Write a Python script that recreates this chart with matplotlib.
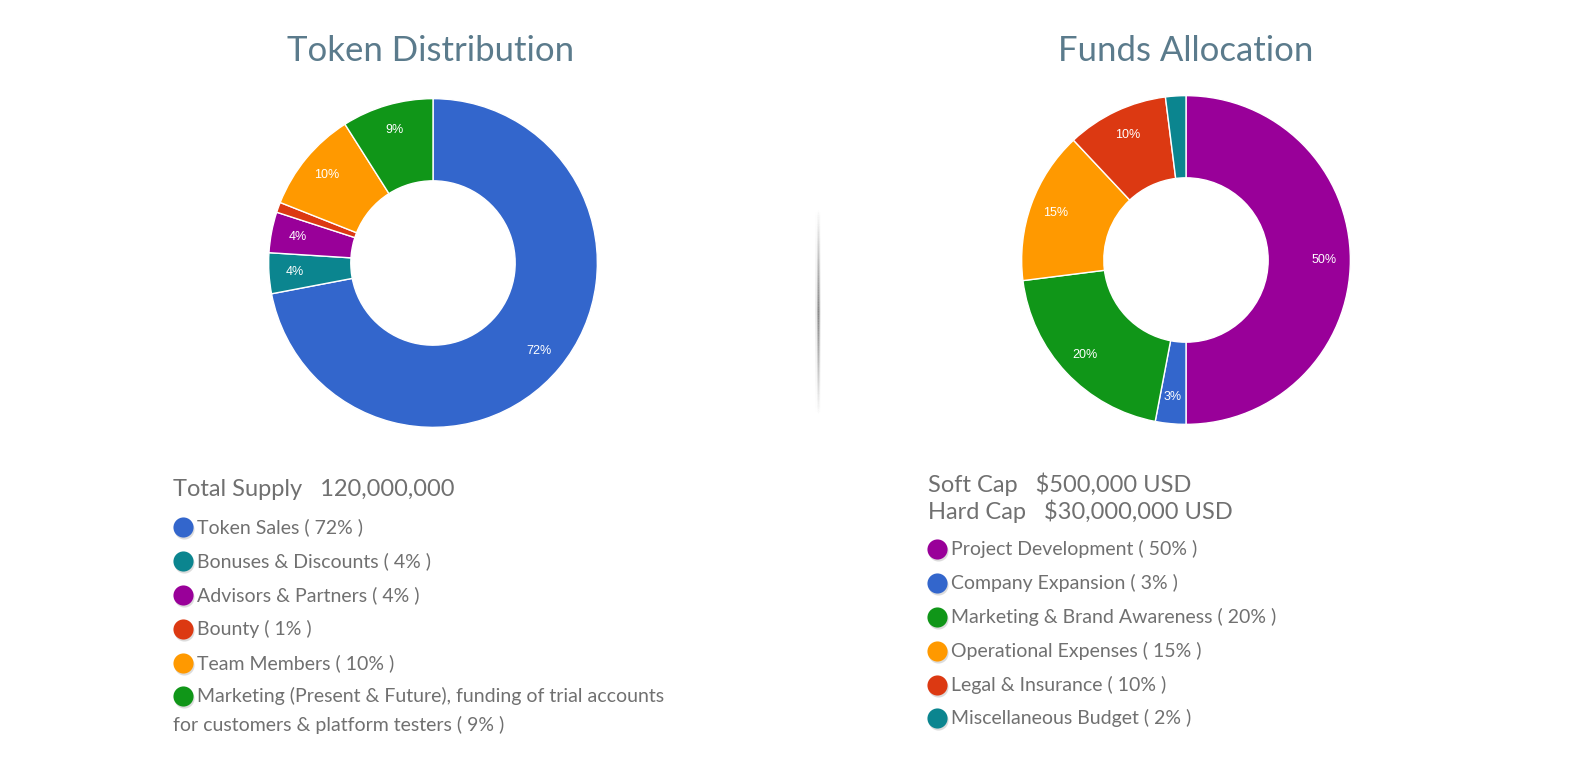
import numpy as np
import matplotlib
matplotlib.use("Agg")
import matplotlib.pyplot as plt
from matplotlib.collections import LineCollection

W, H = 1579, 783

# Token distribution data
token_labels = ["Token Sales", "Bonuses & Discounts", "Advisors & Partners", "Bounty",
                "Team Members", "Marketing (Present & Future), funding of trial accounts\nfor customers & platform testers"]
token_values = [72, 4, 4, 1, 10, 9]
token_colors = ["#3366cc", "#0b858f", "#990099", "#dc3912", "#ff9900", "#109618"]

# Funds allocation data
funds_labels = ["Project Development", "Company Expansion", "Marketing & Brand Awareness",
                "Operational Expenses", "Legal & Insurance", "Miscellaneous Budget"]
funds_values = [50, 3, 20, 15, 10, 2]
funds_colors = ["#990099", "#3366cc", "#109618", "#ff9900", "#dc3912", "#0b858f"]

TITLE_COL = "#5b7b8c"
TEXT_COL = "#707070"
FONT = ["Lato", "DejaVu Sans"]

plt.rcParams["font.family"] = FONT

fig = plt.figure(figsize=(W / 100, H / 100), dpi=100)
fig.patch.set_facecolor("white")

# overlay axes in pixel coordinates for texts / legend dots
ov = fig.add_axes([0, 0, 1, 1])
ov.set_xlim(0, W)
ov.set_ylim(H, 0)
ov.axis("off")


def donut(cx, cy, r, values, colors):
    ax = fig.add_axes([(cx - r) / W, (H - cy - r) / H, 2 * r / W, 2 * r / H])
    ax.pie(values, colors=colors, startangle=90, counterclock=False, radius=1,
           wedgeprops=dict(width=0.5, edgecolor="white", linewidth=1),
           autopct=lambda p: f"{p:.0f}%" if p > 2.5 else "", pctdistance=0.84,
           textprops=dict(color="white", fontsize=9, family=["Arial", "Liberation Sans", "DejaVu Sans"]))
    ax.set_xlim(-1.01, 1.01)
    ax.set_ylim(-1.01, 1.01)
    ax.set_aspect("equal")
    ax.axis("off")


def legend(x, ys, labels, values, colors):
    for y, lab, v, c in zip(ys, labels, values, colors):
        ov.scatter([x + 0.8], [y + 1.8], s=210, color="#bbbbbb", alpha=0.5, linewidths=0, zorder=2)
        ov.scatter([x], [y], s=210, color=c, linewidths=0, zorder=3)
        lines = lab.split("\n")
        if len(lines) == 1:
            ov.text(x + 14, y, f"{lab} ( {v}% )", fontsize=14, color=TEXT_COL,
                    va="center", ha="left")
        else:
            ov.text(x + 14, y, lines[0], fontsize=14, color=TEXT_COL,
                    va="center", ha="left")
            ov.text(x - 10, y + 29, f"{lines[1]} ( {v}% )", fontsize=14, color=TEXT_COL,
                    va="center", ha="left")


# left chart
ov.text(431, 51, "Token Distribution", fontsize=25, color=TITLE_COL, ha="center", va="center")
donut(433, 263, 166, token_values, token_colors)
ov.text(173, 490, "Total Supply   120,000,000", fontsize=17, color=TEXT_COL, ha="left",
        va="center")
legend(183, [527, 561, 595, 629, 663, 696], token_labels, token_values, token_colors)

# right chart
ov.text(1186, 51, "Funds Allocation", fontsize=25, color=TITLE_COL, ha="center", va="center")
donut(1186, 260, 166, funds_values, funds_colors)
ov.text(928, 484, "Soft Cap   $500,000 USD", fontsize=17, color=TEXT_COL, ha="left",
        va="center")
ov.text(928, 511, "Hard Cap   $30,000,000 USD", fontsize=17, color=TEXT_COL, ha="left",
        va="center")
legend(937, [549, 583, 617, 651, 685, 718], funds_labels, funds_values, funds_colors)

# faded vertical divider (soft shadow)
ys = np.linspace(210, 415, 120)
segs = [[(818, a), (818, b)] for a, b in zip(ys[:-1], ys[1:])]
mid = (ys[:-1] + ys[1:]) / 2
alpha = np.clip(1 - np.abs(mid - 312) / 103, 0, 1) ** 1.2
for lw, k in [(4, 0.15), (2, 0.35), (1, 0.6)]:
    cols = [(0.4, 0.4, 0.4, a * k) for a in alpha]
    ov.add_collection(LineCollection(segs, colors=cols, linewidths=lw))

fig.savefig("out.png", dpi=100, facecolor="white")
